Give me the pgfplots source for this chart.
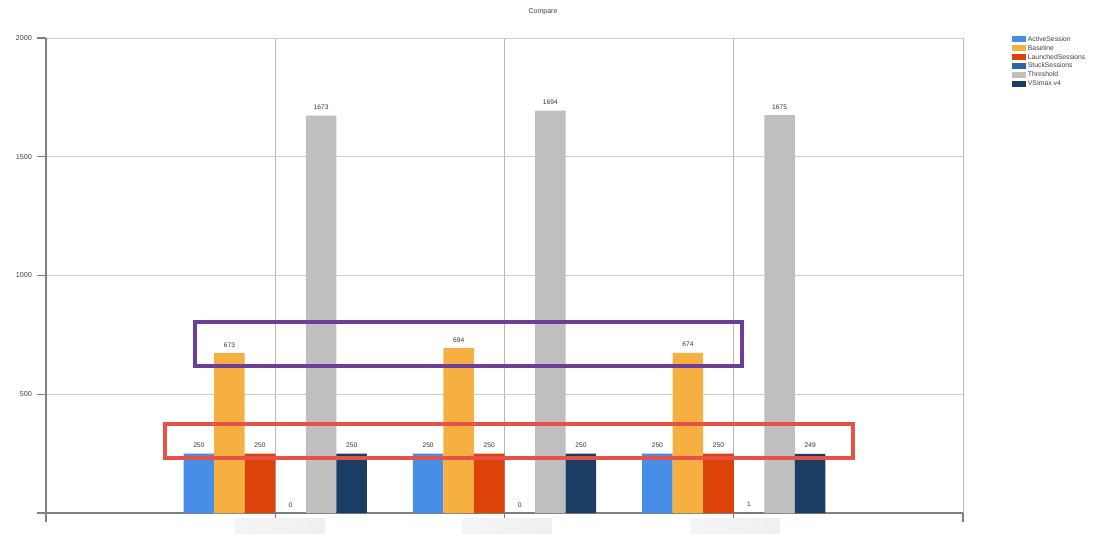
\documentclass[border=0pt]{standalone}
\usepackage{fontspec}
\setmainfont{Liberation Sans}
\usepackage{pgfplots}
\pgfplotsset{compat=1.18}

\definecolor{cActive}{RGB}{70,142,232}
\definecolor{cBase}{RGB}{245,176,65}
\definecolor{cLaunch}{RGB}{221,66,8}
\definecolor{cStuck}{RGB}{43,103,160}
\definecolor{cThresh}{RGB}{191,191,191}
\definecolor{cVsi}{RGB}{27,61,99}
\definecolor{cPurple}{RGB}{108,62,150}
\definecolor{cRed}{RGB}{230,82,74}

\begin{document}
\begin{tikzpicture}[x=0.75pt,y=0.75pt]
\path[use as bounding box] (0,0) rectangle (1095,547);
% title
\node[font=\fontsize{5.25}{6}\selectfont, text=black!75] at (543,535) {Compare};
\begin{axis}[
  at={(34.5pt,25.5pt)}, anchor=south west,
  scale only axis, width=687.75pt, height=356.25pt,
  xmin=0, xmax=4, ymin=0, ymax=2000,
  ybar=0pt, bar width=0.1333,
  axis x line=bottom, axis y line=left,
  axis line style={-, draw=gray, line width=1.1pt},
  xtick={0,1,2,3,4}, xticklabels={},
  ytick={0,500,1000,1500,2000},
  yticklabels={,500,1000,1500,2000},
  tick align=outside, major tick length=7pt,
  tick style={draw=gray, line width=0.8pt},
  grid=major,
  major grid style={draw=gray!40, line width=0.6pt},
  x grid style={draw=gray!55, line width=0.6pt},
  ticklabel style={font=\fontsize{5.4}{6}\selectfont, text=black!75},
  /pgf/number format/assume math mode=true,
  /pgf/number format/1000 sep={},
  nodes near coords,
  every node near coord/.append style={font=\fontsize{5}{6}\selectfont,
     text=black!80, inner sep=0pt, yshift=4.2pt},
  legend style={at={(1.049,1.0105)}, anchor=north west, draw=none, fill=none,
     font=\fontsize{5.1}{6}\selectfont, text=black!75, row sep=1.6pt,
     nodes={inner sep=0pt, text height=3.9pt, text depth=1.2pt, anchor=west}},
  legend cell align=left,
  legend image code/.code={\fill[#1,draw=none] (0pt,-2.25pt) rectangle (10.5pt,2.25pt);},
  /tikz/every odd column/.append style={column sep=1.3pt},
]
\addplot[fill=cActive, draw=none] coordinates {(1,250) (2,250) (3,250)};
\addlegendentry{ActiveSession}
\addplot[fill=cBase, draw=none] coordinates {(1,673) (2,694) (3,674)};
\addlegendentry{Baseline}
\addplot[fill=cLaunch, draw=none] coordinates {(1,250) (2,250) (3,250)};
\addlegendentry{LaunchedSessions}
\addplot[fill=cStuck, draw=none] coordinates {(1,0) (2,0) (3,1)};
\addlegendentry{StuckSessions}
\addplot[fill=cThresh, draw=none] coordinates {(1,1673) (2,1694) (3,1675)};
\addlegendentry{Threshold}
\addplot[fill=cVsi, draw=none] coordinates {(1,250) (2,250) (3,249)};
\addlegendentry{VSImax v4}
\end{axis}
% blurred (redacted) category labels
\foreach \xa in {235,462,690} {
  \shade[left color=cRed!8!gray!8, right color=gray!12, draw=none]
    (\xa,14) rectangle ++(90,15);
}
% annotation boxes
\draw[cPurple, line width=2.4pt] (195,181) rectangle (742,225);
\draw[cRed, line width=2.6pt] (165,89) rectangle (853,123);
\end{tikzpicture}
\end{document}
